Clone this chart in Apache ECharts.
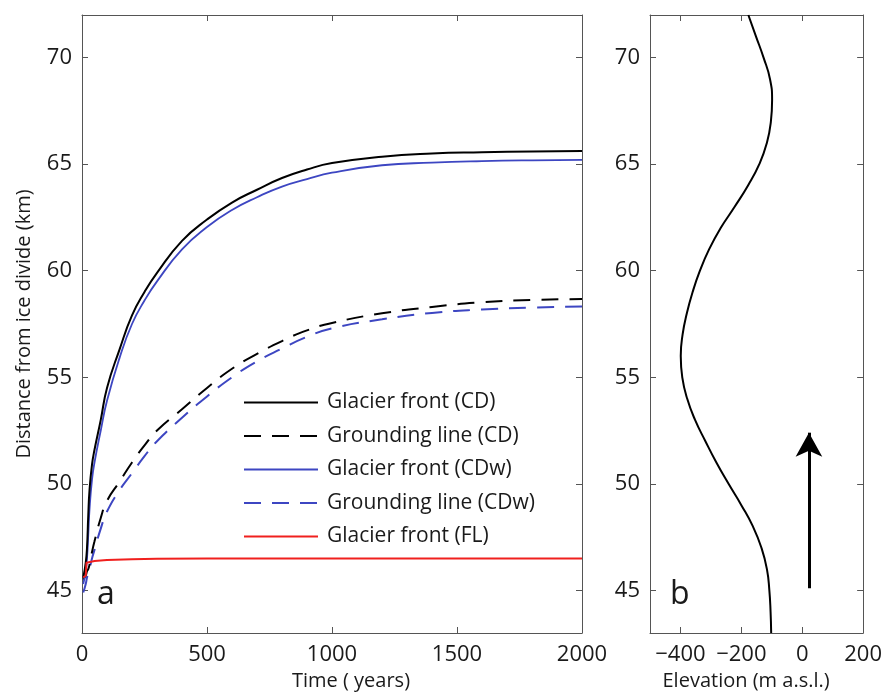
<!DOCTYPE html>
<html>
<head>
<meta charset="utf-8">
<script src="https://cdn.jsdelivr.net/npm/echarts@6/dist/echarts.min.js"></script>
<style>
  html, body { margin: 0; padding: 0; background: #fff; }
  #chart { width: 885px; height: 698px; }
</style>
</head>
<body>
<div id="chart"></div>
<script>
// Panel a: modelled positions over time (km from ice divide)
const timeYears = [5, 15, 20, 25, 30, 40, 50, 75, 100, 150, 200, 250, 300, 400, 500, 600, 700, 800, 900, 1000, 1200, 1400, 1600, 1800, 2000];
const frontCD   = [45.6, 46.3, 47.0, 48.5, 49.7, 50.9, 51.6, 53.0, 54.5, 56.3, 57.9, 59.0, 59.9, 61.4, 62.4, 63.2, 63.8, 64.35, 64.75, 65.05, 65.35, 65.5, 65.56, 65.6, 65.62];
const groundCD  = [45.5, 45.7, 45.9, 46.0, 46.2, 46.8, 47.3, 48.4, 49.2, 50.1, 51.0, 51.8, 52.5, 53.5, 54.5, 55.4, 56.1, 56.7, 57.2, 57.55, 58.0, 58.3, 58.52, 58.63, 58.67];
const frontCDw  = [45.3, 45.9, 46.5, 47.6, 48.8, 50.2, 51.0, 52.5, 53.9, 55.9, 57.5, 58.6, 59.5, 61.0, 62.05, 62.85, 63.45, 63.95, 64.3, 64.6, 64.95, 65.07, 65.14, 65.18, 65.2];
const groundCDw = [44.9, 45.3, 45.6, 45.8, 46.0, 46.5, 46.9, 47.9, 48.7, 49.7, 50.5, 51.3, 52.0, 53.1, 54.1, 55.0, 55.75, 56.35, 56.9, 57.3, 57.72, 58.02, 58.18, 58.27, 58.32];
const timeFL    = [5, 10, 15, 18, 25, 50, 100, 200, 300, 500, 1000, 2000];
const frontFL   = [45.6, 45.6, 45.7, 46.3, 46.35, 46.38, 46.42, 46.46, 46.48, 46.5, 46.5, 46.5];

// Panel b: bed elevation along the flowline
const bedDist = [43, 44, 45, 46, 47, 48, 49, 50, 51, 52, 53, 54, 55, 56, 57, 58, 59, 60, 61, 62, 63, 64, 65, 66, 67, 68, 69, 70, 71, 72];
const bedElev = [-102, -104, -108, -116, -134, -162, -200, -242, -282, -318, -352, -378, -394, -399, -393, -379, -360, -336, -306, -268, -222, -178, -141, -116, -103, -99, -106, -127, -152, -177];

// Flow-direction arrow (elevation, distance)
const arrowElev = 22;
const arrowFrom = 45.1;
const arrowTo = 52.4;

// Tick values
const timeTicks = [0, 500, 1000, 1500, 2000];
const distTicks = [45, 50, 55, 60, 65, 70];
const elevTicks = [-400, -200, 0, 200];

const FONT = '"Open Sans", sans-serif';
const FRAME = '#555';
const TEXT = '#1a1a1a';
const BLUE = '#3d46c2';
const RED = '#f0201e';

const pairs = (xs, ys) => xs.map((x, i) => [x, ys[i]]);
const plain = v => String(v).replace('-', '\u2212');

const axisLine = { show: true, onZero: false, lineStyle: { color: FRAME, width: 1 } };
const ticksIn = vals => ({ show: true, inside: true, length: 6, customValues: vals, lineStyle: { color: FRAME, width: 1 } });
const labelStyle = { color: TEXT, fontSize: 22, fontFamily: FONT };
const nameStyle = { color: TEXT, fontSize: 20, fontFamily: FONT };

const chart = echarts.init(document.getElementById('chart'), null, { renderer: 'canvas' });

chart.setOption({
  animation: false,
  backgroundColor: '#fff',
  grid: [
    { left: 82, top: 15, width: 500, height: 618 },
    { left: 650, top: 15, width: 216, height: 618 }
  ],
  xAxis: [
    {
      gridIndex: 0, type: 'value', min: 0, max: 2000, position: 'bottom',
      axisLine, axisTick: ticksIn(timeTicks), splitLine: { show: false },
      axisLabel: Object.assign({ customValues: timeTicks, margin: 11, formatter: plain }, labelStyle),
      name: 'Time ( years)', nameLocation: 'middle', nameGap: 34,
      nameTextStyle: Object.assign({ padding: [0, 0, 0, 38] }, nameStyle)
    },
    {
      gridIndex: 0, type: 'value', min: 0, max: 2000, position: 'top',
      axisLine, axisTick: ticksIn(timeTicks), splitLine: { show: false },
      axisLabel: { show: false }
    },
    {
      gridIndex: 1, type: 'value', min: -500, max: 200, position: 'bottom',
      axisLine, axisTick: ticksIn(elevTicks), splitLine: { show: false },
      axisLabel: Object.assign({ customValues: elevTicks, margin: 11, formatter: plain }, labelStyle),
      name: 'Elevation (m a.s.l.)', nameLocation: 'middle', nameGap: 34,
      nameTextStyle: Object.assign({ padding: [0, 21, 0, 0] }, nameStyle)
    },
    {
      gridIndex: 1, type: 'value', min: -500, max: 200, position: 'top',
      axisLine, axisTick: ticksIn(elevTicks), splitLine: { show: false },
      axisLabel: { show: false }
    }
  ],
  yAxis: [
    {
      gridIndex: 0, type: 'value', min: 43, max: 72, position: 'left',
      axisLine, axisTick: ticksIn(distTicks), splitLine: { show: false },
      axisLabel: Object.assign({ customValues: distTicks, margin: 10, formatter: plain }, labelStyle),
      name: 'Distance from ice divide (km)', nameLocation: 'middle', nameGap: 48,
      nameTextStyle: nameStyle
    },
    {
      gridIndex: 0, type: 'value', min: 43, max: 72, position: 'right',
      axisLine, axisTick: ticksIn(distTicks), splitLine: { show: false },
      axisLabel: { show: false }
    },
    {
      gridIndex: 1, type: 'value', min: 43, max: 72, position: 'left',
      axisLine, axisTick: ticksIn(distTicks), splitLine: { show: false },
      axisLabel: Object.assign({ customValues: distTicks, margin: 10, formatter: plain }, labelStyle)
    },
    {
      gridIndex: 1, type: 'value', min: 43, max: 72, position: 'right',
      axisLine, axisTick: ticksIn(distTicks), splitLine: { show: false },
      axisLabel: { show: false }
    }
  ],
  legend: {
    orient: 'vertical', left: 243, top: 392, padding: 0,
    itemWidth: 74, itemHeight: 20, itemGap: 12.5,
    selectedMode: false,
    itemStyle: { opacity: 0 },
    textStyle: { color: TEXT, fontSize: 21, fontFamily: FONT, padding: [0, 0, 0, 4] },
    data: ['Glacier front (CD)', 'Grounding line (CD)', 'Glacier front (CDw)', 'Grounding line (CDw)', 'Glacier front (FL)']
  },
  graphic: [
    { type: 'text', style: { x: 97, y: 595, text: 'a', font: '32px "Open Sans", sans-serif', fill: TEXT, verticalAlign: 'middle' } },
    { type: 'text', style: { x: 670, y: 595, text: 'b', font: '32px "Open Sans", sans-serif', fill: TEXT, verticalAlign: 'middle' } }
  ],
  series: [
    {
      name: 'Grounding line (CDw)', type: 'line', xAxisIndex: 0, yAxisIndex: 0,
      data: pairs(timeYears, groundCDw), showSymbol: false, smooth: 0.5,
      itemStyle: { color: BLUE }, lineStyle: { color: BLUE, width: 2, type: [17, 11] }
    },
    {
      name: 'Grounding line (CD)', type: 'line', xAxisIndex: 0, yAxisIndex: 0,
      data: pairs(timeYears, groundCD), showSymbol: false, smooth: 0.5,
      itemStyle: { color: '#000' }, lineStyle: { color: '#000', width: 2, type: [17, 11] }
    },
    {
      name: 'Glacier front (CDw)', type: 'line', xAxisIndex: 0, yAxisIndex: 0,
      data: pairs(timeYears, frontCDw), showSymbol: false, smooth: 0.5,
      itemStyle: { color: BLUE }, lineStyle: { color: BLUE, width: 1.8 }
    },
    {
      name: 'Glacier front (CD)', type: 'line', xAxisIndex: 0, yAxisIndex: 0,
      data: pairs(timeYears, frontCD), showSymbol: false, smooth: 0.5,
      itemStyle: { color: '#000' }, lineStyle: { color: '#000', width: 2 }
    },
    {
      name: 'Glacier front (FL)', type: 'line', xAxisIndex: 0, yAxisIndex: 0,
      data: pairs(timeFL, frontFL), showSymbol: false,
      itemStyle: { color: RED }, lineStyle: { color: RED, width: 2 }
    },
    {
      name: 'Bed', type: 'line', xAxisIndex: 2, yAxisIndex: 2,
      data: pairs(bedElev, bedDist), showSymbol: false, smooth: 0.5,
      itemStyle: { color: '#000' }, lineStyle: { color: '#000', width: 2 },
      markLine: {
        silent: true, animation: false,
        symbol: ['none', 'arrow'], symbolSize: [20, 24],
        label: { show: false },
        lineStyle: { color: '#000', width: 3, type: 'solid' },
        emphasis: { disabled: true },
        data: [[{ coord: [arrowElev, arrowFrom] }, { coord: [arrowElev, arrowTo] }]]
      }
    }
  ]
});
</script>
</body>
</html>
